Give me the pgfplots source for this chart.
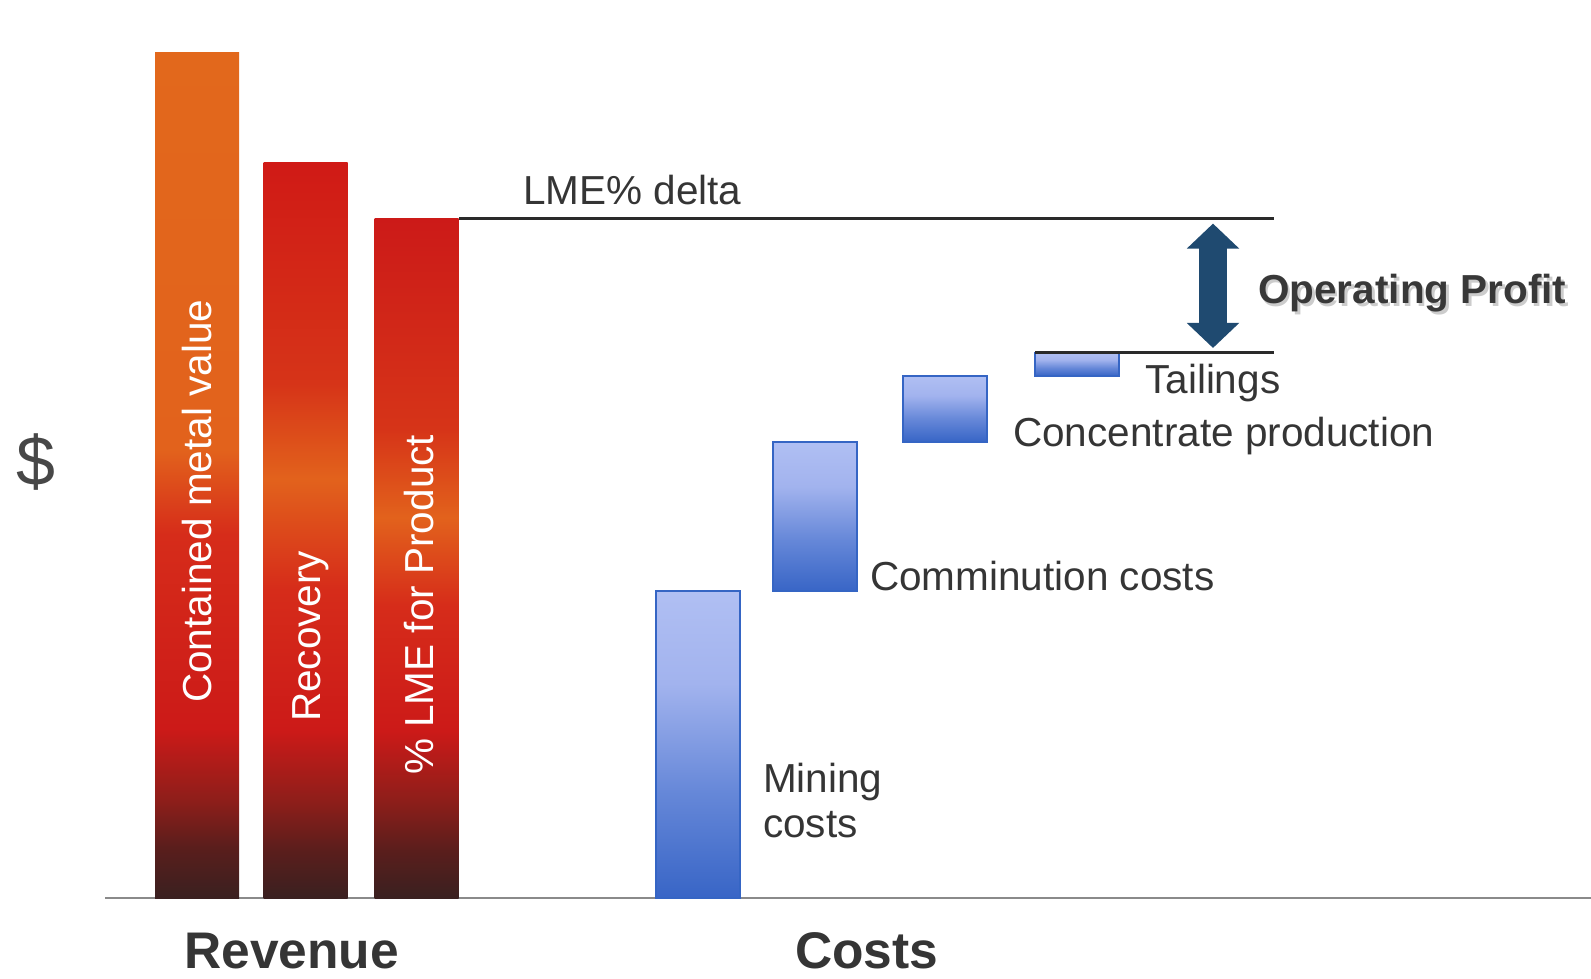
\documentclass[border=0pt]{standalone}
\usepackage{fontspec}
\setmainfont{Liberation Sans}
\usepackage{pgfplots}
\pgfplotsset{compat=1.18}
\usetikzlibrary{arrows.meta}

% palette
\definecolor{txtgrey}{HTML}{353535}
\definecolor{axisgrey}{HTML}{8A8A8A}
\definecolor{lineblack}{HTML}{2A2A2A}
\definecolor{arrowblue}{HTML}{1F4A70}
\definecolor{redDark}{HTML}{3A2020}
\definecolor{redBrown}{HTML}{5A1E1C}
\definecolor{redDeep}{HTML}{8E1E1A}
\definecolor{redMain}{HTML}{CC1A18}
\definecolor{redWarm}{HTML}{D62C1A}
\definecolor{redHot}{HTML}{D63418}
\definecolor{orangeMain}{HTML}{E2621C}
\definecolor{orangeTop}{HTML}{E2681C}
\definecolor{redTop}{HTML}{D01A16}
\definecolor{blueD}{HTML}{3865C6}
\definecolor{blueM}{HTML}{6587D8}
\definecolor{blueL}{HTML}{A2B3EE}
\definecolor{blueT}{HTML}{B0BFF3}
\definecolor{blueEdge}{HTML}{3565C4}

% vertical shadings: the path is mapped onto 25bp..75bp
\pgfdeclareverticalshading{revA}{100bp}{color(0bp)=(redDark); color(25bp)=(redDark);
  color(28bp)=(redBrown); color(30.8bp)=(redDeep); color(35bp)=(redMain);
  color(46.5bp)=(redWarm); color(51.5bp)=(orangeMain); color(75bp)=(orangeTop); color(100bp)=(orangeTop)}
\pgfdeclareverticalshading{revB}{100bp}{color(0bp)=(redDark); color(25bp)=(redDark);
  color(28.2bp)=(redBrown); color(31.6bp)=(redDeep); color(36.4bp)=(redMain);
  color(46bp)=(redWarm); color(53.5bp)=(orangeMain); color(60bp)=(redHot); color(75bp)=(redTop); color(100bp)=(redTop)}
\pgfdeclareverticalshading{revC}{100bp}{color(0bp)=(redDark); color(25bp)=(redDark);
  color(28.5bp)=(redBrown); color(32.2bp)=(redDeep); color(37.3bp)=(redMain);
  color(46.5bp)=(redWarm); color(53bp)=(orangeMain); color(59.5bp)=(redHot); color(75bp)=(redMain); color(100bp)=(redMain)}
\pgfdeclareverticalshading{cost}{100bp}{color(0bp)=(blueD); color(25bp)=(blueD);
  color(42bp)=(blueM); color(60bp)=(blueL); color(75bp)=(blueT); color(100bp)=(blueT)}

\tikzset{
  lbl/.style={font=\fontsize{40.5}{46}\selectfont, text=txtgrey, inner sep=0pt},
  barlbl/.style={font=\fontsize{40.5}{46}\selectfont, text=white, inner sep=0pt, rotate=90, anchor=base west},
  cat/.style={font=\fontsize{51.5}{56}\selectfont\bfseries, text=txtgrey, inner sep=0pt, anchor=base west},
}

\begin{document}
\begin{tikzpicture}[x=1pt,y=1pt]
\useasboundingbox (0,0) rectangle (1591,978);
\begin{axis}[
  at={(105pt,80pt)}, anchor=south west,
  scale only axis, width=1486pt, height=898pt,
  xmin=105, xmax=1591, ymin=0, ymax=106.27,
  axis x line*=bottom, axis y line=none,
  x axis line style={-, draw=axisgrey, line width=2.5pt},
  xtick=\empty, ytick=\empty,
  clip=false,
]
% revenue bars
\addplot[ybar, bar width=84, bar shift=0, draw=none, shading=revA] coordinates {(197,100.0)};
\addplot[ybar, bar width=84, bar shift=0, draw=none, shading=revB] coordinates {(305.5,87.0)};
\addplot[ybar, bar width=84, bar shift=0, draw=none, shading=revC] coordinates {(416.5,80.4)};

% cost steps: mining 0-36.3, comminution 36.3-54.0, concentrate 54.0-61.8, tailings 61.8-64.5
\addplot[ybar, bar width=84, bar shift=0, draw=blueEdge, line width=2pt, shading=cost] coordinates {(697.5,36.3)};
\addplot[draw=blueEdge, line width=2pt, shading=cost] coordinates {(772.5,36.3) (856.5,36.3) (856.5,54.0) (772.5,54.0)} -- cycle;
\addplot[draw=blueEdge, line width=2pt, shading=cost] coordinates {(903,54.0) (987,54.0) (987,61.8) (903,61.8)} -- cycle;
\addplot[draw=blueEdge, line width=2pt, shading=cost] coordinates {(1035,61.8) (1119,61.8) (1119,64.5) (1035,64.5)} -- cycle;

% reference levels
\addplot[lineblack, line width=3pt] coordinates {(459,80.4) (1274,80.4)};
\addplot[lineblack, line width=3pt] coordinates {(1035,64.5) (1274,64.5)};

% operating profit span
\addplot[arrowblue, line width=28pt, shorten <=5pt, shorten >=5pt,
  {Triangle[width=51pt,length=25pt]}-{Triangle[width=51pt,length=25pt]}]
  coordinates {(1213,64.5) (1213,80.4)};
\end{axis}

% labels
\node[barlbl] at (211,275) {Contained metal value};
\node[barlbl] at (320,256) {Recovery};
\node[barlbl] at (433,203) {\% LME for Product};

\node[lbl, anchor=base west] at (523,773) {LME\% delta};
\node[lbl, anchor=base west, text=black!20, font=\fontsize{40.5}{46}\selectfont\bfseries] at (1260.5,671.5) {Operating Profit};
\node[lbl, anchor=base west, font=\fontsize{40.5}{46}\selectfont\bfseries, text=black!78] at (1258,674) {Operating Profit};
\node[lbl, anchor=base west] at (1145,584) {Tailings};
\node[lbl, anchor=base west] at (1013,531) {Concentrate production};
\node[lbl, anchor=base west] at (870,387) {Comminution costs};
\node[lbl, anchor=base west] at (763,185) {Mining};
\node[lbl, anchor=base west] at (763,140) {costs};

\node[cat] at (184,10) {Revenue};
\node[cat] at (795,10) {Costs};

\node[lbl, font=\fontsize{70}{76}\selectfont, text=black!72] at (36,516) {\$};
\end{tikzpicture}
\end{document}
